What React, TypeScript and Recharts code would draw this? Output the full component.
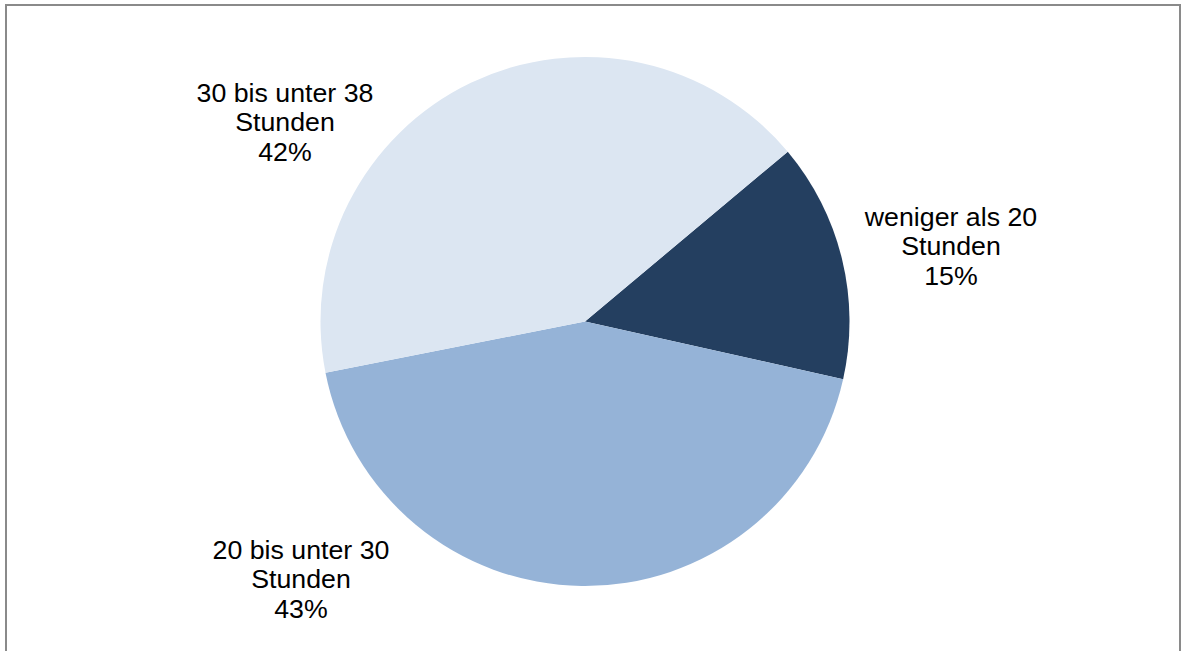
import React from 'react';
import { PieChart, Pie, Cell } from 'recharts';

const categories = ['weniger als 20 Stunden', '20 bis unter 30 Stunden', '30 bis unter 38 Stunden'];
const values = [14.6, 43.4, 42.0];
const colors = ['#243F60', '#95B3D7', '#DCE6F2'];

// label anchor offsets from the pie centre (layout, not data)
const labelOffsets = [
  { dx: 366, dy: -75 },
  { dx: -284, dy: 258 },
  { dx: -300, dy: -199 },
];

const W = 1182;
const H = 651;
const CX = 585;
const CY = 321.5;
const R = 264.5;
const START = 39.95;
const FONT = 25;
const LINE = 29.5;
const STRETCH = 1.07;

const data = categories.map((name, i) => ({ name, value: values[i] }));
const total = values.reduce((a, b) => a + b, 0);

const renderLabel = (props: any) => {
  const { cx, cy, index } = props;
  const name: string = categories[index];
  const cut = name.lastIndexOf(' ');
  const lines = [name.slice(0, cut), name.slice(cut + 1), `${Math.round((values[index] / total) * 100)}%`];
  const off = labelOffsets[index];
  const x = cx + off.dx;
  const y0 = cy + off.dy - LINE;
  return (
    <g transform={`translate(${x},0) scale(${STRETCH},1) translate(${-x},0)`}>
      <text
        x={x}
        y={y0}
        textAnchor="middle"
        dominantBaseline="central"
        fill="#000000"
        fontSize={FONT}
        fontFamily="'Liberation Sans', Arial, sans-serif"
      >
        {lines.map((l, i) => (
          <tspan key={i} x={x} y={y0 + i * LINE} dominantBaseline="central">
            {l}
          </tspan>
        ))}
      </text>
    </g>
  );
};

export default function App() {
  return (
    <div style={{ position: 'absolute', left: 0, top: 0, width: W, height: H, overflow: 'hidden', background: '#ffffff' }}>
      <div
        style={{
          position: 'absolute',
          left: 5,
          top: 4,
          width: 1176,
          height: 720,
          border: '2px solid #8a8a8a',
          boxSizing: 'border-box',
        }}
      />
      <div style={{ position: 'absolute', left: 0, top: 0 }}>
        <PieChart width={W} height={H} margin={{ top: 0, right: 0, bottom: 0, left: 0 }}>
          <Pie
            data={data}
            dataKey="value"
            nameKey="name"
            cx={CX}
            cy={CY}
            outerRadius={R}
            innerRadius={0}
            startAngle={START}
            endAngle={START - 360}
            stroke="none"
            label={renderLabel}
            labelLine={false}
            isAnimationActive={false}
          >
            {data.map((d, i) => (
              <Cell key={d.name} fill={colors[i]} stroke="none" />
            ))}
          </Pie>
        </PieChart>
      </div>
    </div>
  );
}
